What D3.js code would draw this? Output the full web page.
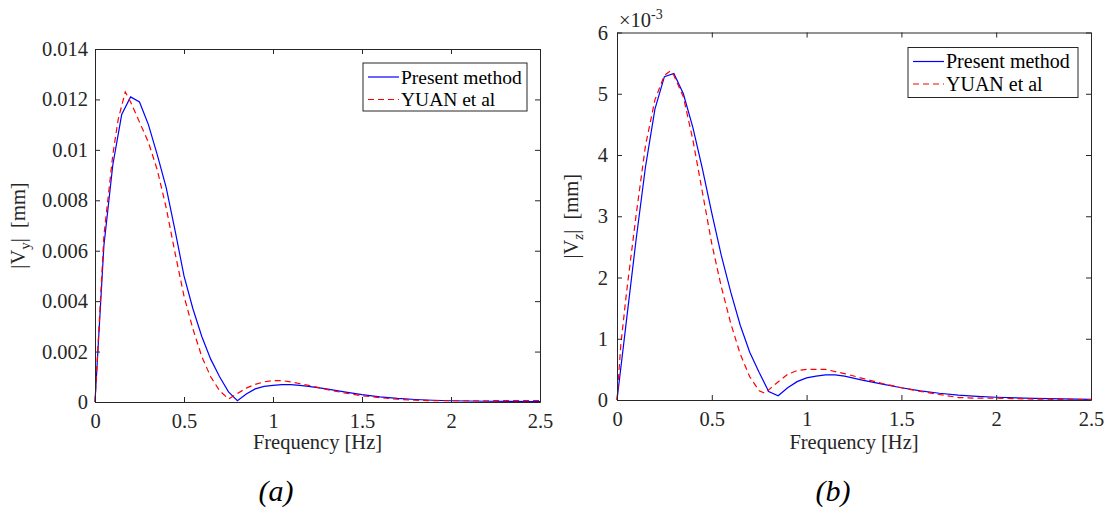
<!DOCTYPE html>
<html>
<head>
<meta charset="utf-8">
<script src="https://cdn.jsdelivr.net/npm/d3@7.9.0/dist/d3.min.js"></script>
<style>
  body { margin: 0; background: #fff; }
</style>
</head>
<body>
<svg id="chart" width="1109" height="508" font-family="Liberation Serif"></svg>
<script>
// shared axis ticks
const xTicks = [0, 0.5, 1, 1.5, 2, 2.5];
const yTicksA = [0, 0.002, 0.004, 0.006, 0.008, 0.01, 0.012, 0.014];
const yTicksB = [0, 1, 2, 3, 4, 5, 6];
const seriesNames = ['Present method', 'YUAN et al'];

// (a) |Vy| in mm
const freqA = [0, 0.05, 0.1, 0.15, 0.2, 0.25, 0.3, 0.35, 0.4, 0.45, 0.5, 0.55, 0.6, 0.65, 0.7, 0.75, 0.8, 0.85, 0.9, 0.95,
  1.0, 1.05, 1.1, 1.15, 1.2, 1.3, 1.4, 1.5, 1.6, 1.7, 1.8, 1.9, 2.0, 2.2, 2.5];
const presentA = [0, 0.0062, 0.0094, 0.0114, 0.0121, 0.0119, 0.0110, 0.0098, 0.0085, 0.0068, 0.0050, 0.0037, 0.0026, 0.0017,
  0.0010, 0.0004, 0.00005, 0.00032, 0.00052, 0.00062, 0.00066, 0.00069, 0.00069, 0.00066, 0.00062, 0.00052, 0.00040,
  0.00029, 0.00020, 0.00014, 0.00010, 0.00007, 0.00005, 0.00003, 0.00002];
const yuanFreqA = [0, 0.05, 0.1, 0.13, 0.17, 0.2, 0.25, 0.3, 0.35, 0.4, 0.45, 0.5, 0.55, 0.6, 0.65, 0.7, 0.75, 0.78, 0.85,
  0.9, 0.95, 1.0, 1.05, 1.1, 1.2, 1.3, 1.4, 1.5, 1.6, 1.7, 1.8, 1.9, 2.0, 2.2, 2.5];
const yuanA = [0, 0.0066, 0.0098, 0.0112, 0.0123, 0.0119, 0.0111, 0.0103, 0.0092, 0.0077, 0.0059, 0.0042, 0.0029, 0.0018,
  0.0010, 0.00045, 0.00012, 0.00025, 0.00055, 0.0007, 0.0008, 0.00085, 0.00085, 0.0008, 0.00066, 0.0005, 0.00036,
  0.00025, 0.00017, 0.00011, 0.00007, 0.00005, 0.00005, 0.00005, 0.00006];

// (b) |Vz| in units of 1e-3 mm
const freqB = freqA;
const presentB = [0, 1.3, 2.6, 3.8, 4.75, 5.28, 5.33, 5.0, 4.45, 3.78, 3.05, 2.36, 1.76, 1.22, 0.78, 0.45, 0.14, 0.07, 0.2,
  0.3, 0.36, 0.39, 0.41, 0.41, 0.39, 0.32, 0.26, 0.2, 0.15, 0.11, 0.08, 0.06, 0.045, 0.025, 0.01];
const yuanFreqB = [0, 0.02, 0.05, 0.1, 0.15, 0.2, 0.25, 0.28, 0.3, 0.35, 0.4, 0.45, 0.5, 0.55, 0.6, 0.65, 0.7, 0.75, 0.78,
  0.82, 0.9, 0.95, 1.0, 1.1, 1.2, 1.3, 1.4, 1.5, 1.6, 1.7, 1.8, 1.9, 2.0, 2.2, 2.5];
const yuanB = [0, 0.9, 1.75, 3.0, 4.15, 4.9, 5.3, 5.37, 5.3, 4.95, 4.25, 3.4, 2.55, 1.85, 1.25, 0.75, 0.38, 0.15, 0.11,
  0.22, 0.42, 0.48, 0.5, 0.5, 0.43, 0.35, 0.27, 0.2, 0.14, 0.09, 0.04, 0.03, 0.03, 0.015, 0.005];

const svg = d3.select('#chart');
svg.append('rect').attr('width', 1109).attr('height', 508).attr('fill', '#fff');

const AXIS = '#262626';
const SERIF = 'Liberation Serif';
const FONT = 20.5;

function drawPanel(p) {
  const x = d3.scaleLinear().domain([0, 2.5]).range([p.left, p.right]);
  const y = d3.scaleLinear().domain(p.yDomain).range([p.bottom, p.top]);
  const g = svg.append('g');

  const line = d3.line().x(d => x(d[0])).y(d => y(d[1]));

  // blue first, red dashed on top
  g.append('path')
    .datum(d3.zip(p.freq, p.present))
    .attr('d', line)
    .attr('fill', 'none')
    .attr('stroke', '#0000ff')
    .attr('stroke-width', 1.2);
  g.append('path')
    .datum(d3.zip(p.yuanFreq, p.yuan))
    .attr('d', line)
    .attr('fill', 'none')
    .attr('stroke', '#ff0000')
    .attr('stroke-width', 1.2)
    .attr('stroke-dasharray', '6,4');

  // axes, ticks pointing inward on all four sides
  const styleAxis = sel => {
    sel.attr('font-family', SERIF).attr('font-size', FONT);
    sel.selectAll('path, line').attr('stroke', AXIS).attr('stroke-width', 1);
    sel.selectAll('text').attr('fill', AXIS);
  };
  g.append('g').attr('transform', `translate(0,${p.bottom})`)
    .call(d3.axisBottom(x).tickValues(xTicks).tickSize(-5).tickSizeOuter(0).tickPadding(11).tickFormat(d3.format('')))
    .call(styleAxis);
  g.append('g').attr('transform', `translate(0,${p.top})`)
    .call(d3.axisTop(x).tickValues(xTicks).tickSize(-5).tickSizeOuter(0).tickFormat(''))
    .call(styleAxis);
  g.append('g').attr('transform', `translate(${p.left},0)`)
    .call(d3.axisLeft(y).tickValues(p.yTicks).tickSize(-5).tickSizeOuter(0).tickPadding(p.yPad).tickFormat(d3.format('')))
    .call(styleAxis);
  g.append('g').attr('transform', `translate(${p.right},0)`)
    .call(d3.axisRight(y).tickValues(p.yTicks).tickSize(-5).tickSizeOuter(0).tickFormat(''))
    .call(styleAxis);

  // x label
  g.append('text')
    .attr('x', (p.left + p.right) / 2)
    .attr('y', 449)
    .attr('text-anchor', 'middle')
    .attr('font-size', FONT)
    .attr('fill', AXIS)
    .text('Frequency [Hz]');

  // y label |V_sub|  [mm]
  const yl = g.append('text')
    .attr('transform', `translate(${p.yLabelX},${(p.top + p.bottom) / 2}) rotate(-90)`)
    .attr('text-anchor', 'middle')
    .attr('font-size', FONT)
    .attr('fill', AXIS)
    .style('white-space', 'pre');
  yl.append('tspan').text('|V');
  yl.append('tspan').attr('dy', 5).attr('font-size', 15)
    .attr('font-style', p.subItalic ? 'italic' : 'normal').text(p.sub);
  yl.append('tspan').attr('dy', -5).text('|  [mm]');

  // legend
  const lg = g.append('g').attr('transform', `translate(${p.legX},${p.legY})`);
  lg.append('rect')
    .attr('width', p.legW).attr('height', p.legH)
    .attr('fill', '#fff').attr('stroke', AXIS).attr('stroke-width', 1);
  seriesNames.forEach((name, i) => {
    const cy = 14 + i * 22.5;
    lg.append('line')
      .attr('x1', 5).attr('x2', 36).attr('y1', cy).attr('y2', cy)
      .attr('stroke', i === 0 ? '#0000ff' : '#ff0000')
      .attr('stroke-width', 1.2)
      .attr('stroke-dasharray', i === 0 ? null : '6,4');
    lg.append('text')
      .attr('x', 38).attr('y', cy + 6.5)
      .attr('font-size', p.legFont)
      .attr('fill', '#000')
      .text(name);
  });

  // panel caption
  svg.append('text')
    .attr('x', p.capX).attr('y', 501)
    .attr('text-anchor', 'middle')
    .attr('font-size', 30)
    .attr('font-style', 'italic')
    .attr('fill', '#000')
    .text(p.caption);
}

drawPanel({
  left: 95, right: 540, top: 49, bottom: 402,
  yDomain: [0, 0.014], yTicks: yTicksA, yPad: 7,
  freq: freqA, present: presentA, yuanFreq: yuanFreqA, yuan: yuanA,
  sub: 'y', subItalic: false, yLabelX: 25,
  legX: 363, legY: 63, legW: 164, legH: 48, legFont: 19.5,
  capX: 276, caption: '(a)'
});

drawPanel({
  left: 617, right: 1091, top: 32.5, bottom: 400,
  yDomain: [0, 6], yTicks: yTicksB, yPad: 9,
  freq: freqB, present: presentB, yuanFreq: yuanFreqB, yuan: yuanB,
  sub: 'z', subItalic: true, yLabelX: 578,
  legX: 908, legY: 47.5, legW: 170, legH: 50, legFont: 20,
  capX: 833, caption: '(b)'
});

// exponent marker for panel (b)
const ex = svg.append('text').attr('x', 619).attr('y', 26.5).attr('font-size', FONT).attr('fill', AXIS);
ex.append('tspan').text('×10');
ex.append('tspan').attr('dy', -8).attr('font-size', 14).text('-3');
</script>
</body>
</html>
